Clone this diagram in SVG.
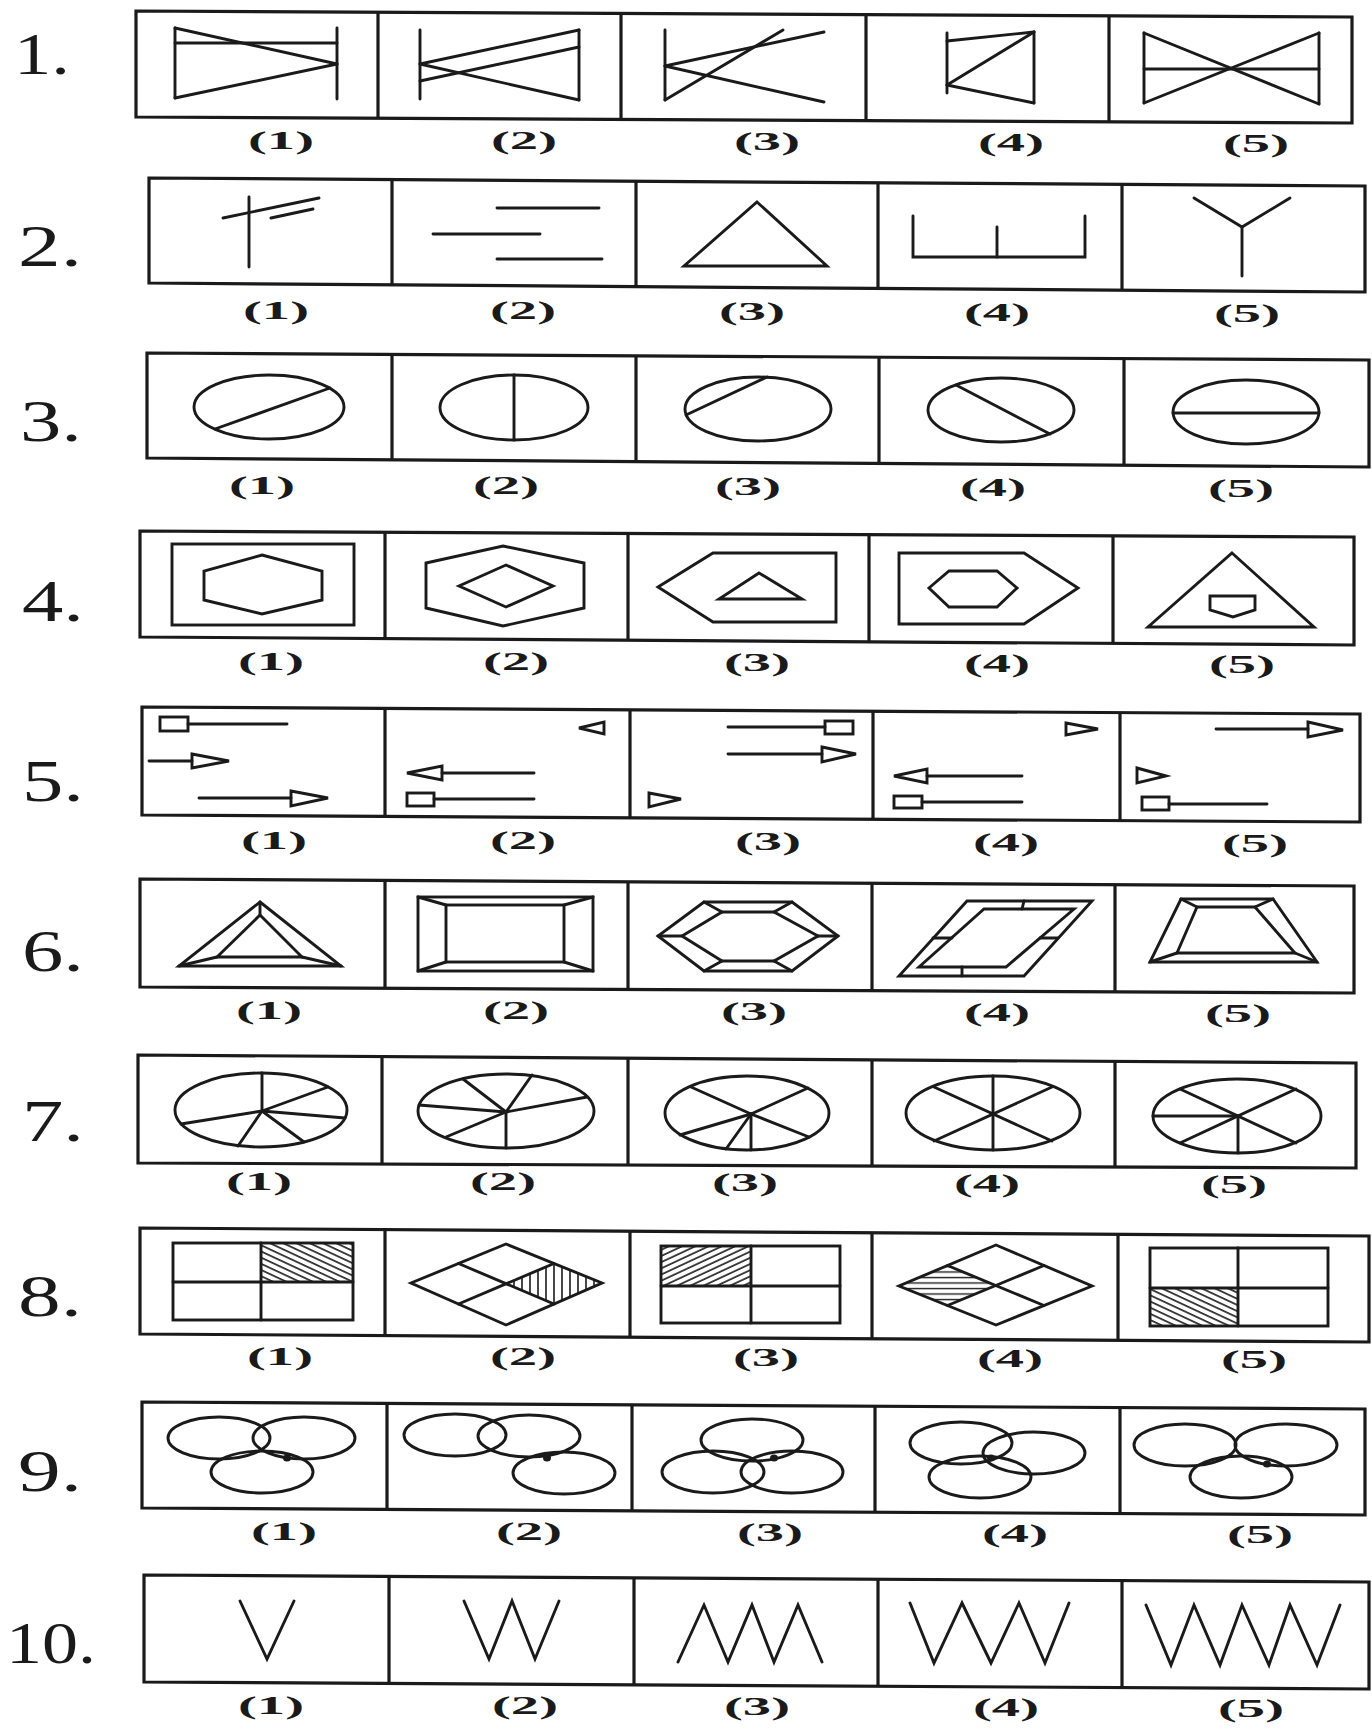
<svg xmlns="http://www.w3.org/2000/svg" width="1372" height="1733" viewBox="0 0 1372 1733">
<style>
.fr{fill:none;stroke:#1a1a1a;stroke-width:3.2;stroke-linejoin:miter}
.s{fill:none;stroke:#1a1a1a;stroke-width:2.9;stroke-linecap:round;stroke-linejoin:miter}
.lb{font-family:"Liberation Serif","Times New Roman",serif;font-weight:bold;font-size:26px;fill:#1a1a1a;text-anchor:middle}
.num{font-family:"Liberation Serif","Times New Roman",serif;font-size:60px;fill:#1a1a1a}
.dot{fill:#1a1a1a}
</style>
<defs>
<pattern id="hb" patternUnits="userSpaceOnUse" width="5.6" height="20" patternTransform="rotate(-65)"><line x1="1" y1="-2" x2="1" y2="22" stroke="#1a1a1a" stroke-width="1.6"/></pattern>
<pattern id="hf" patternUnits="userSpaceOnUse" width="5.6" height="20" patternTransform="rotate(65)"><line x1="1" y1="-2" x2="1" y2="22" stroke="#1a1a1a" stroke-width="1.6"/></pattern>
<pattern id="hv" patternUnits="userSpaceOnUse" width="8" height="10"><line x1="2" y1="-2" x2="2" y2="12" stroke="#1a1a1a" stroke-width="1.6"/></pattern>
<pattern id="hh" patternUnits="userSpaceOnUse" width="10" height="5.5"><line x1="-2" y1="1.5" x2="12" y2="1.5" stroke="#1a1a1a" stroke-width="1.4"/></pattern>
</defs>
<rect x="0" y="0" width="1372" height="1733" fill="#ffffff"/>

<!-- Row 1 -->
<g id="row1">
<text class="num" x="14" y="74" textLength="56" lengthAdjust="spacingAndGlyphs">1.</text>
<polygon class="fr" points="136,11 1352,17 1352,123 136,117"/>
<line class="fr" x1="378" y1="12" x2="378" y2="118"/>
<line class="fr" x1="621" y1="13" x2="621" y2="119"/>
<line class="fr" x1="866" y1="15" x2="866" y2="121"/>
<line class="fr" x1="1109" y1="16" x2="1109" y2="122"/>
<g id="r1c1"><line class="s" x1="175" y1="28" x2="175" y2="98"/><line class="s" x1="337" y1="28" x2="337" y2="99"/><line class="s" x1="175" y1="43" x2="337" y2="43"/><line class="s" x1="175" y1="28" x2="337" y2="64"/><line class="s" x1="175" y1="98" x2="337" y2="64"/></g>
<g id="r1c2"><line class="s" x1="420" y1="30" x2="420" y2="99"/><line class="s" x1="579" y1="30" x2="579" y2="100"/><line class="s" x1="420" y1="64" x2="579" y2="30"/><line class="s" x1="420" y1="64" x2="579" y2="100"/><line class="s" x1="420" y1="81" x2="579" y2="47"/></g>
<g id="r1c3"><line class="s" x1="665" y1="30" x2="665" y2="100"/><line class="s" x1="665" y1="66" x2="824" y2="32"/><line class="s" x1="665" y1="66" x2="824" y2="102"/><line class="s" x1="665" y1="100" x2="783" y2="30"/></g>
<g id="r1c4"><line class="s" x1="947" y1="33" x2="947" y2="93"/><line class="s" x1="947" y1="41" x2="1034" y2="32"/><line class="s" x1="1034" y1="32" x2="1034" y2="103"/><line class="s" x1="1034" y1="32" x2="947" y2="85"/><line class="s" x1="947" y1="85" x2="1034" y2="103"/></g>
<g id="r1c5"><line class="s" x1="1144" y1="33" x2="1144" y2="103"/><line class="s" x1="1319" y1="33" x2="1319" y2="104"/><line class="s" x1="1144" y1="33" x2="1319" y2="104"/><line class="s" x1="1144" y1="103" x2="1319" y2="33"/><line class="s" x1="1144" y1="69" x2="1319" y2="69"/></g>
<text class="lb" x="281" y="149" textLength="66" lengthAdjust="spacingAndGlyphs">(1)</text>
<text class="lb" x="524" y="149" textLength="66" lengthAdjust="spacingAndGlyphs">(2)</text>
<text class="lb" x="767" y="150" textLength="66" lengthAdjust="spacingAndGlyphs">(3)</text>
<text class="lb" x="1011" y="151" textLength="66" lengthAdjust="spacingAndGlyphs">(4)</text>
<text class="lb" x="1256" y="152" textLength="66" lengthAdjust="spacingAndGlyphs">(5)</text>
</g>

<!-- Row 2 -->
<g id="row2">
<text class="num" x="18" y="266" textLength="64" lengthAdjust="spacingAndGlyphs">2.</text>
<polygon class="fr" points="149,178 1365,186 1365,292 149,283"/>
<line class="fr" x1="392" y1="180" x2="392" y2="285"/>
<line class="fr" x1="636" y1="181" x2="636" y2="287"/>
<line class="fr" x1="878" y1="183" x2="878" y2="288"/>
<line class="fr" x1="1122" y1="184" x2="1122" y2="290"/>
<g id="r2c1"><line class="s" x1="249" y1="197" x2="249" y2="267"/><line class="s" x1="223" y1="218" x2="319" y2="198"/><line class="s" x1="271" y1="218" x2="313" y2="209"/></g>
<g id="r2c2"><line class="s" x1="497" y1="208" x2="599" y2="208"/><line class="s" x1="433" y1="234" x2="540" y2="234"/><line class="s" x1="497" y1="259" x2="602" y2="259"/></g>
<g id="r2c3"><polygon class="s" points="757,202 827,266 684,266"/></g>
<g id="r2c4"><polyline class="s" points="913,216 913,257 1085,257 1085,216"/><line class="s" x1="997" y1="227" x2="997" y2="257"/></g>
<g id="r2c5"><polyline class="s" points="1194,198 1242,227 1290,198"/><line class="s" x1="1242" y1="227" x2="1242" y2="276"/></g>
<text class="lb" x="276" y="319" textLength="66" lengthAdjust="spacingAndGlyphs">(1)</text>
<text class="lb" x="523" y="319" textLength="66" lengthAdjust="spacingAndGlyphs">(2)</text>
<text class="lb" x="752" y="320" textLength="66" lengthAdjust="spacingAndGlyphs">(3)</text>
<text class="lb" x="997" y="321" textLength="66" lengthAdjust="spacingAndGlyphs">(4)</text>
<text class="lb" x="1247" y="322" textLength="66" lengthAdjust="spacingAndGlyphs">(5)</text>
</g>

<!-- Row 3 -->
<g id="row3">
<text class="num" x="20" y="441" textLength="62" lengthAdjust="spacingAndGlyphs">3.</text>
<polygon class="fr" points="147,353 1369,360 1369,467 147,458"/>
<line class="fr" x1="392" y1="354" x2="392" y2="460"/>
<line class="fr" x1="636" y1="356" x2="636" y2="462"/>
<line class="fr" x1="879" y1="357" x2="879" y2="463"/>
<line class="fr" x1="1124" y1="359" x2="1124" y2="465"/>
<g id="r3c1"><ellipse class="s" cx="269" cy="407" rx="75" ry="32"/><line class="s" x1="215" y1="429" x2="330" y2="388"/></g>
<g id="r3c2"><ellipse class="s" cx="514" cy="407.5" rx="74" ry="32.5"/><line class="s" x1="514" y1="375" x2="514" y2="440"/></g>
<g id="r3c3"><ellipse class="s" cx="758" cy="409" rx="73" ry="32"/><line class="s" x1="686" y1="415" x2="767" y2="377"/></g>
<g id="r3c4"><ellipse class="s" cx="1001" cy="410" rx="73" ry="32"/><line class="s" x1="956" y1="385" x2="1050" y2="434"/></g>
<g id="r3c5"><ellipse class="s" cx="1246" cy="412" rx="73" ry="32"/><line class="s" x1="1173" y1="413" x2="1319" y2="413"/></g>
<text class="lb" x="262" y="494" textLength="66" lengthAdjust="spacingAndGlyphs">(1)</text>
<text class="lb" x="506" y="494" textLength="66" lengthAdjust="spacingAndGlyphs">(2)</text>
<text class="lb" x="748" y="495" textLength="66" lengthAdjust="spacingAndGlyphs">(3)</text>
<text class="lb" x="993" y="496" textLength="66" lengthAdjust="spacingAndGlyphs">(4)</text>
<text class="lb" x="1241" y="497" textLength="66" lengthAdjust="spacingAndGlyphs">(5)</text>
</g>

<!-- Row 4 -->
<g id="row4">
<text class="num" x="22" y="621" textLength="62" lengthAdjust="spacingAndGlyphs">4.</text>
<polygon class="fr" points="140,531 1354,537 1354,645 140,637"/>
<line class="fr" x1="385" y1="532" x2="385" y2="639"/>
<line class="fr" x1="628" y1="533" x2="628" y2="640"/>
<line class="fr" x1="869" y1="535" x2="869" y2="642"/>
<line class="fr" x1="1113" y1="536" x2="1113" y2="643"/>
<g id="r4c1"><rect class="s" x="172" y="544" width="182" height="81"/><polygon class="s" points="262,555 322,571 322,600 262,614 204,600 204,571"/></g>
<g id="r4c2"><polygon class="s" points="503,546 584,563 584,608 503,626 426,608 426,563"/><polygon class="s" points="506,565 553,586 506,607 459,586"/></g>
<g id="r4c3"><polygon class="s" points="658,587 713,553 836,553 836,622 713,622"/><polygon class="s" points="759,573 802,599 719,599"/></g>
<g id="r4c4"><polygon class="s" points="899,553 1024,553 1078,588 1024,624 899,624"/><polygon class="s" points="949,571 997,571 1017,588 997,607 949,607 929,588"/></g>
<g id="r4c5"><polygon class="s" points="1232,553 1314,627 1148,627"/><polygon class="s" points="1210,596 1255,596 1255,610 1233,617 1210,610"/></g>
<text class="lb" x="271" y="670" textLength="66" lengthAdjust="spacingAndGlyphs">(1)</text>
<text class="lb" x="516" y="670" textLength="66" lengthAdjust="spacingAndGlyphs">(2)</text>
<text class="lb" x="757" y="671" textLength="66" lengthAdjust="spacingAndGlyphs">(3)</text>
<text class="lb" x="997" y="672" textLength="66" lengthAdjust="spacingAndGlyphs">(4)</text>
<text class="lb" x="1242" y="673" textLength="66" lengthAdjust="spacingAndGlyphs">(5)</text>
</g>

<!-- Row 5 -->
<g id="row5">
<text class="num" x="22" y="801" textLength="62" lengthAdjust="spacingAndGlyphs">5.</text>
<polygon class="fr" points="142,707 1360,714 1360,822 142,815"/>
<line class="fr" x1="385" y1="708" x2="385" y2="816"/>
<line class="fr" x1="630" y1="710" x2="630" y2="818"/>
<line class="fr" x1="873" y1="711" x2="873" y2="819"/>
<line class="fr" x1="1120" y1="713" x2="1120" y2="821"/>
<g id="r5c1"><rect class="s" x="160" y="717" width="28" height="14"/><line class="s" x1="188" y1="724" x2="287" y2="724"/><line class="s" x1="149" y1="761" x2="192" y2="761"/><polygon class="s" points="192,754 229,761 192,768"/><line class="s" x1="199" y1="798" x2="291" y2="798"/><polygon class="s" points="291,791 328,798 291,806"/></g>
<g id="r5c2"><polygon class="s" points="579,728 604,722 604,734"/><polygon class="s" points="407,773 442,766 442,780"/><line class="s" x1="442" y1="773" x2="534" y2="773"/><rect class="s" x="407" y="793" width="27" height="13"/><line class="s" x1="434" y1="799" x2="534" y2="799"/></g>
<g id="r5c3"><line class="s" x1="728" y1="727" x2="825" y2="727"/><rect class="s" x="825" y="721" width="28" height="13"/><line class="s" x1="728" y1="754" x2="822" y2="754"/><polygon class="s" points="822,747 856,754 822,762"/><polygon class="s" points="649,793 681,799 649,807"/></g>
<g id="r5c4"><polygon class="s" points="1066,723 1098,729 1066,735"/><polygon class="s" points="894,776 927,769 927,783"/><line class="s" x1="927" y1="776" x2="1022" y2="776"/><rect class="s" x="894" y="796" width="28" height="12"/><line class="s" x1="922" y1="802" x2="1022" y2="802"/></g>
<g id="r5c5"><line class="s" x1="1216" y1="729" x2="1308" y2="729"/><polygon class="s" points="1308,722 1343,730 1308,737"/><polygon class="s" points="1137,768 1166,776 1137,783"/><rect class="s" x="1142" y="797" width="27" height="13"/><line class="s" x1="1169" y1="804" x2="1267" y2="804"/></g>
<text class="lb" x="274" y="849" textLength="66" lengthAdjust="spacingAndGlyphs">(1)</text>
<text class="lb" x="523" y="849" textLength="66" lengthAdjust="spacingAndGlyphs">(2)</text>
<text class="lb" x="768" y="850" textLength="66" lengthAdjust="spacingAndGlyphs">(3)</text>
<text class="lb" x="1006" y="851" textLength="66" lengthAdjust="spacingAndGlyphs">(4)</text>
<text class="lb" x="1255" y="852" textLength="66" lengthAdjust="spacingAndGlyphs">(5)</text>
</g>

<!-- Row 6 -->
<g id="row6">
<text class="num" x="22" y="971" textLength="62" lengthAdjust="spacingAndGlyphs">6.</text>
<polygon class="fr" points="140,879 1354,886 1354,993 140,987"/>
<line class="fr" x1="385" y1="880" x2="385" y2="988"/>
<line class="fr" x1="628" y1="882" x2="628" y2="989"/>
<line class="fr" x1="872" y1="883" x2="872" y2="991"/>
<line class="fr" x1="1115" y1="885" x2="1115" y2="992"/>
<g id="r6c1"><polygon class="s" points="260,902 341,966 179,966"/><polygon class="s" points="260,915 302,957 217,957"/><line class="s" x1="260" y1="902" x2="260" y2="915"/><line class="s" x1="341" y1="966" x2="302" y2="957"/><line class="s" x1="179" y1="966" x2="217" y2="957"/></g>
<g id="r6c2"><rect class="s" x="418" y="897" width="175" height="74"/><rect class="s" x="446" y="905" width="118" height="57"/><line class="s" x1="418" y1="897" x2="446" y2="905"/><line class="s" x1="593" y1="897" x2="564" y2="905"/><line class="s" x1="593" y1="971" x2="564" y2="962"/><line class="s" x1="418" y1="971" x2="446" y2="962"/></g>
<g id="r6c3"><polygon class="s" points="704,902 792,902 838,936 792,971 704,971 658,936"/><polygon class="s" points="722,912 774,912 818,936 774,961 722,961 682,936"/><line class="s" x1="704" y1="902" x2="722" y2="912"/><line class="s" x1="792" y1="902" x2="774" y2="912"/><line class="s" x1="838" y1="936" x2="818" y2="936"/><line class="s" x1="792" y1="971" x2="774" y2="961"/><line class="s" x1="704" y1="971" x2="722" y2="961"/><line class="s" x1="658" y1="936" x2="682" y2="936"/></g>
<g id="r6c4"><polygon class="s" points="967,901 1092,901 1024,976 899,976"/><polygon class="s" points="984,909 1074,909 1006,967 919,967"/><line class="s" x1="1024" y1="901" x2="1022" y2="909"/><line class="s" x1="933" y1="938" x2="952" y2="938"/><line class="s" x1="1040" y1="938" x2="1058" y2="938"/><line class="s" x1="962" y1="967" x2="962" y2="976"/></g>
<g id="r6c5"><polygon class="s" points="1181,899 1273,899 1317,962 1150,962"/><polygon class="s" points="1197,907 1255,907 1295,953 1177,953"/><line class="s" x1="1181" y1="899" x2="1197" y2="907"/><line class="s" x1="1273" y1="899" x2="1255" y2="907"/><line class="s" x1="1317" y1="962" x2="1295" y2="953"/><line class="s" x1="1150" y1="962" x2="1177" y2="953"/></g>
<text class="lb" x="269" y="1019" textLength="66" lengthAdjust="spacingAndGlyphs">(1)</text>
<text class="lb" x="516" y="1019" textLength="66" lengthAdjust="spacingAndGlyphs">(2)</text>
<text class="lb" x="754" y="1020" textLength="66" lengthAdjust="spacingAndGlyphs">(3)</text>
<text class="lb" x="997" y="1021" textLength="66" lengthAdjust="spacingAndGlyphs">(4)</text>
<text class="lb" x="1238" y="1022" textLength="66" lengthAdjust="spacingAndGlyphs">(5)</text>
</g>

<!-- Row 7 -->
<g id="row7">
<text class="num" x="22" y="1141" textLength="62" lengthAdjust="spacingAndGlyphs">7.</text>
<polygon class="fr" points="138,1055 1356,1063 1356,1168 138,1163"/>
<line class="fr" x1="382" y1="1057" x2="382" y2="1164"/>
<line class="fr" x1="628" y1="1058" x2="628" y2="1165"/>
<line class="fr" x1="872" y1="1060" x2="872" y2="1166"/>
<line class="fr" x1="1115" y1="1061" x2="1115" y2="1167"/>
<g id="r7c1"><ellipse class="s" cx="261" cy="1110" rx="86" ry="37"/><line class="s" x1="262" y1="1111" x2="262" y2="1073"/><line class="s" x1="262" y1="1111" x2="328" y2="1087"/><line class="s" x1="262" y1="1111" x2="345" y2="1118"/><line class="s" x1="262" y1="1111" x2="304" y2="1142"/><line class="s" x1="262" y1="1111" x2="238" y2="1146"/><line class="s" x1="262" y1="1111" x2="181" y2="1124"/></g>
<g id="r7c2"><ellipse class="s" cx="506" cy="1111" rx="88" ry="37"/><line class="s" x1="506" y1="1112" x2="463" y2="1079"/><line class="s" x1="506" y1="1112" x2="532" y2="1075"/><line class="s" x1="506" y1="1112" x2="587" y2="1097"/><line class="s" x1="506" y1="1112" x2="419" y2="1105"/><line class="s" x1="506" y1="1112" x2="446" y2="1137"/><line class="s" x1="506" y1="1112" x2="506" y2="1148"/></g>
<g id="r7c3"><ellipse class="s" cx="747" cy="1113" rx="82" ry="37"/><line class="s" x1="751" y1="1114" x2="691" y2="1087"/><line class="s" x1="751" y1="1114" x2="808" y2="1088"/><line class="s" x1="751" y1="1114" x2="809" y2="1137"/><line class="s" x1="751" y1="1114" x2="751" y2="1150"/><line class="s" x1="751" y1="1114" x2="726" y2="1149"/><line class="s" x1="751" y1="1114" x2="680" y2="1135"/></g>
<g id="r7c4"><ellipse class="s" cx="993" cy="1113" rx="87" ry="37"/><line class="s" x1="993" y1="1076" x2="993" y2="1150"/><line class="s" x1="934" y1="1087" x2="1052" y2="1141"/><line class="s" x1="1052" y1="1087" x2="934" y2="1141"/></g>
<g id="r7c5"><ellipse class="s" cx="1237" cy="1116" rx="84" ry="37"/><line class="s" x1="1180" y1="1089" x2="1296" y2="1143"/><line class="s" x1="1296" y1="1089" x2="1180" y2="1143"/><line class="s" x1="1153" y1="1116" x2="1238" y2="1116"/><line class="s" x1="1238" y1="1116" x2="1238" y2="1153"/></g>
<text class="lb" x="259" y="1190" textLength="66" lengthAdjust="spacingAndGlyphs">(1)</text>
<text class="lb" x="503" y="1190" textLength="66" lengthAdjust="spacingAndGlyphs">(2)</text>
<text class="lb" x="745" y="1191" textLength="66" lengthAdjust="spacingAndGlyphs">(3)</text>
<text class="lb" x="987" y="1192" textLength="66" lengthAdjust="spacingAndGlyphs">(4)</text>
<text class="lb" x="1234" y="1193" textLength="66" lengthAdjust="spacingAndGlyphs">(5)</text>
</g>

<!-- Row 8 -->
<g id="row8">
<text class="num" x="18" y="1316" textLength="64" lengthAdjust="spacingAndGlyphs">8.</text>
<polygon class="fr" points="140,1228 1369,1236 1369,1342 140,1334"/>
<line class="fr" x1="385" y1="1230" x2="385" y2="1336"/>
<line class="fr" x1="630" y1="1231" x2="630" y2="1337"/>
<line class="fr" x1="872" y1="1233" x2="872" y2="1339"/>
<line class="fr" x1="1118" y1="1234" x2="1118" y2="1340"/>
<g id="r8c1"><rect x="261" y="1243" width="92" height="39" fill="url(#hb)"/><rect class="s" x="173" y="1243" width="180" height="77"/><line class="s" x1="261" y1="1243" x2="261" y2="1320"/><line class="s" x1="173" y1="1282" x2="353" y2="1282"/></g>
<g id="r8c2"><polygon points="506,1284 554,1263.5 602,1283 554,1304" fill="url(#hv)"/><polygon class="s" points="506,1244 602,1283 506,1325 411,1283"/><line class="s" x1="458.5" y1="1263.5" x2="554" y2="1304"/><line class="s" x1="554" y1="1263.5" x2="458.5" y2="1304"/></g>
<g id="r8c3"><rect x="661" y="1246" width="90" height="40" fill="url(#hf)"/><rect class="s" x="661" y="1246" width="179" height="77"/><line class="s" x1="751" y1="1246" x2="751" y2="1323"/><line class="s" x1="661" y1="1286" x2="840" y2="1286"/></g>
<g id="r8c4"><polygon points="899,1286 947.5,1265.5 996,1285.5 947.5,1305.5" fill="url(#hh)"/><polygon class="s" points="996,1245 1092,1286 996,1325 899,1286"/><line class="s" x1="947.5" y1="1265.5" x2="1044" y2="1305.5"/><line class="s" x1="1044" y1="1265.5" x2="947.5" y2="1305.5"/></g>
<g id="r8c5"><rect x="1150" y="1288" width="88" height="38" fill="url(#hb)"/><rect class="s" x="1150" y="1248" width="178" height="78"/><line class="s" x1="1238" y1="1248" x2="1238" y2="1326"/><line class="s" x1="1150" y1="1288" x2="1328" y2="1288"/></g>
<text class="lb" x="280" y="1365" textLength="66" lengthAdjust="spacingAndGlyphs">(1)</text>
<text class="lb" x="523" y="1365" textLength="66" lengthAdjust="spacingAndGlyphs">(2)</text>
<text class="lb" x="766" y="1366" textLength="66" lengthAdjust="spacingAndGlyphs">(3)</text>
<text class="lb" x="1010" y="1367" textLength="66" lengthAdjust="spacingAndGlyphs">(4)</text>
<text class="lb" x="1254" y="1368" textLength="66" lengthAdjust="spacingAndGlyphs">(5)</text>
</g>

<!-- Row 9 -->
<g id="row9">
<text class="num" x="18" y="1491" textLength="64" lengthAdjust="spacingAndGlyphs">9.</text>
<polygon class="fr" points="142,1402 1365,1409 1365,1515 142,1508"/>
<line class="fr" x1="387" y1="1403" x2="387" y2="1509"/>
<line class="fr" x1="632" y1="1405" x2="632" y2="1511"/>
<line class="fr" x1="875" y1="1406" x2="875" y2="1512"/>
<line class="fr" x1="1120" y1="1408" x2="1120" y2="1514"/>
<g id="r9c1"><ellipse class="s" cx="219" cy="1438" rx="51" ry="21"/><ellipse class="s" cx="304" cy="1438" rx="51" ry="21"/><ellipse class="s" cx="262" cy="1472" rx="51" ry="21"/><ellipse class="dot" cx="287" cy="1458" rx="4" ry="3.5"/></g>
<g id="r9c2"><ellipse class="s" cx="455" cy="1435" rx="51" ry="21"/><ellipse class="s" cx="529" cy="1436" rx="51" ry="21"/><ellipse class="s" cx="564" cy="1473" rx="51" ry="21"/><ellipse class="dot" cx="547" cy="1458" rx="4" ry="3.5"/></g>
<g id="r9c3"><ellipse class="s" cx="752" cy="1440" rx="51" ry="21"/><ellipse class="s" cx="713" cy="1472" rx="51" ry="21"/><ellipse class="s" cx="792" cy="1472" rx="51" ry="21"/><ellipse class="dot" cx="774" cy="1458" rx="4" ry="3.5"/></g>
<g id="r9c4"><ellipse class="s" cx="961" cy="1443" rx="51" ry="21"/><ellipse class="s" cx="1034" cy="1453" rx="51" ry="21"/><ellipse class="s" cx="980" cy="1477" rx="51" ry="21"/><ellipse class="dot" cx="991" cy="1458" rx="4" ry="3.5"/></g>
<g id="r9c5"><ellipse class="s" cx="1185" cy="1445" rx="51" ry="21"/><ellipse class="s" cx="1286" cy="1445" rx="51" ry="21"/><ellipse class="s" cx="1241" cy="1477" rx="51" ry="21"/><ellipse class="dot" cx="1267" cy="1464" rx="4" ry="3.5"/></g>
<text class="lb" x="284" y="1540" textLength="66" lengthAdjust="spacingAndGlyphs">(1)</text>
<text class="lb" x="529" y="1540" textLength="66" lengthAdjust="spacingAndGlyphs">(2)</text>
<text class="lb" x="770" y="1541" textLength="66" lengthAdjust="spacingAndGlyphs">(3)</text>
<text class="lb" x="1015" y="1542" textLength="66" lengthAdjust="spacingAndGlyphs">(4)</text>
<text class="lb" x="1260" y="1543" textLength="66" lengthAdjust="spacingAndGlyphs">(5)</text>
</g>

<!-- Row 10 -->
<g id="row10">
<text class="num" x="6" y="1663" textLength="90" lengthAdjust="spacingAndGlyphs">10.</text>
<polygon class="fr" points="144,1575 1369,1582 1369,1689 144,1682"/>
<line class="fr" x1="389" y1="1576" x2="389" y2="1683"/>
<line class="fr" x1="634" y1="1578" x2="634" y2="1685"/>
<line class="fr" x1="878" y1="1579" x2="878" y2="1686"/>
<line class="fr" x1="1122" y1="1581" x2="1122" y2="1688"/>
<g id="r10c1"><polyline class="s" points="240,1601 267,1659 294,1601"/></g>
<g id="r10c2"><polyline class="s" points="464,1601 489,1659 512,1601 535,1659 559,1601"/></g>
<g id="r10c3"><polyline class="s" points="678,1662 704,1605 728,1662 752,1605 774,1662 798,1605 822,1662"/></g>
<g id="r10c4"><polyline class="s" points="910,1603 934,1663 962,1603 991,1663 1019,1603 1045,1663 1069,1603"/></g>
<g id="r10c5"><polyline class="s" points="1146,1605 1171,1665 1194,1605 1220,1665 1242,1605 1269,1665 1290,1605 1317,1665 1340,1605"/></g>
<text class="lb" x="271" y="1714" textLength="66" lengthAdjust="spacingAndGlyphs">(1)</text>
<text class="lb" x="525" y="1714" textLength="66" lengthAdjust="spacingAndGlyphs">(2)</text>
<text class="lb" x="757" y="1715" textLength="66" lengthAdjust="spacingAndGlyphs">(3)</text>
<text class="lb" x="1006" y="1716" textLength="66" lengthAdjust="spacingAndGlyphs">(4)</text>
<text class="lb" x="1251" y="1717" textLength="66" lengthAdjust="spacingAndGlyphs">(5)</text>
</g>
</svg>
